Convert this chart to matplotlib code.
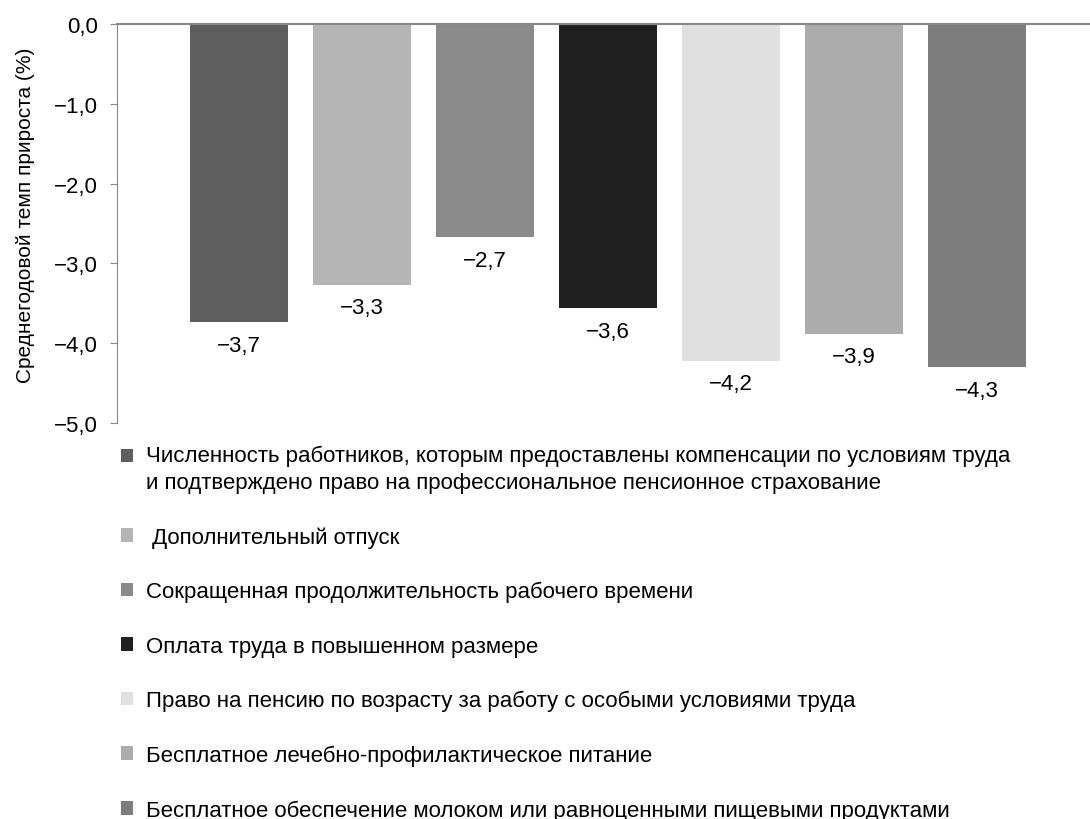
import matplotlib.pyplot as plt
from matplotlib.legend_handler import HandlerPatch
import numpy as np

plt.rcParams['font.family'] = ['Liberation Sans', 'DejaVu Sans']

# data
categories = [
    "Численность работников, которым предоставлены компенсации по условиям труда\nи подтверждено право на профессиональное пенсионное страхование",
    " Дополнительный отпуск",
    "Сокращенная продолжительность рабочего времени",
    "Оплата труда в повышенном размере",
    "Право на пенсию по возрасту за работу с особыми условиями труда",
    "Бесплатное лечебно-профилактическое питание",
    "Бесплатное обеспечение молоком или равноценными пищевыми продуктами",
]
values = [-3.74, -3.27, -2.67, -3.56, -4.22, -3.88, -4.30]
colors = ['#5e5e5e', '#b5b5b5', '#8a8a8a', '#202020', '#e0e0e0', '#acacac', '#7d7d7d']
yticks = [0, -1, -2, -3, -4, -5]


# legend square of the two-line entry sits next to its first line
class TopHandler(HandlerPatch):
    def create_artists(self, legend, orig_handle, xdescent, ydescent,
                       width, height, fontsize, trans):
        arts = super().create_artists(legend, orig_handle, xdescent, ydescent,
                                      width, height, fontsize, trans)
        for a in arts:
            a.set_y(a.get_y() + 9.4)
        return arts


fig = plt.figure(figsize=(10.9, 8.2), dpi=100)
ax = fig.add_axes([0.1073, 0.4829, 0.8927, 0.4866])

x = np.arange(len(values))
bars = ax.bar(x, values, width=0.8, color=colors, edgecolor='none', label=categories)

for xi, v in zip(x, values):
    ax.annotate(('%.1f' % v).replace('.', ',').replace('-', '\u2212'),
                xy=(xi, v), xytext=(0, -9), textcoords='offset points',
                ha='center', va='top', fontsize=16)

ax.set_ylim(-5, 0)
ax.set_xlim(-0.99, 6.92)
ax.set_yticks(yticks)
ax.set_yticklabels([('%.1f' % t).replace('.', ',').replace('-', '\u2212') for t in yticks], fontsize=16)
ax.set_xticks([])
ax.tick_params(axis='y', direction='out', length=5, color='#888888', pad=9)
for s in ['right', 'bottom']:
    ax.spines[s].set_visible(False)
ax.spines['left'].set_color('#888888')
ax.spines['top'].set_color('#888888')
ax.spines['top'].set_linewidth(1.5)
ax.set_ylabel('Среднегодовой темп прироста (%)', fontsize=15)
ax.yaxis.set_label_coords(-0.084, 0.524)

leg = fig.legend(handles=list(bars), labels=categories, loc='upper left',
                 bbox_to_anchor=(0.103, 0.4678), frameon=False, fontsize=16,
                 handlelength=0.55, handleheight=0.55, handletextpad=0.55,
                 labelspacing=1.5, borderaxespad=0,
                 handler_map={bars[0]: TopHandler()})
for t in leg.get_texts():
    t.set_linespacing(1.4)

fig.savefig('out.png', dpi=100)
